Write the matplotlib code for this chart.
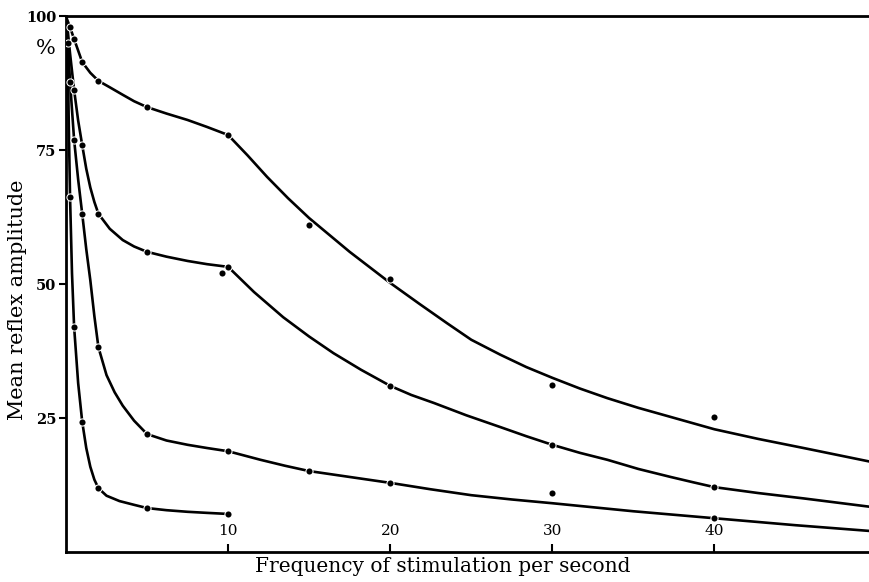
import numpy as np
import matplotlib
matplotlib.use("Agg")
import matplotlib.pyplot as plt

plt.rcParams['font.family'] = ['DejaVu Serif']

# drawn curve paths (frequency per second, % amplitude)
a_line_x = [0.05, 0.25, 0.5, 1, 1.5, 2, 2.7, 3.5, 4.2, 5, 6.2, 7.5, 8.7, 10,
            11.2, 12.4, 13.7, 15, 17.5, 20, 21.8, 23.5, 25, 26.8, 28.4, 30,
            31.7, 33.4, 35.3, 37.3, 40, 42.7, 45.5, 47.6, 49.7]
a_line_y = [99.5, 97.9, 95.7, 91.4, 89.4, 87.9, 86.7, 85.3, 84.1, 83.0, 81.8, 80.6, 79.3, 77.8,
            74.0, 70.0, 66.0, 62.3, 56.0, 50.2, 46.3, 42.7, 39.6, 36.8, 34.5, 32.5,
            30.5, 28.7, 26.9, 25.2, 22.9, 21.1, 19.4, 18.1, 16.8]

b_line_x = [0.05, 0.25, 0.5, 0.75, 1, 1.25, 1.5, 1.75, 2, 2.7, 3.5, 4.2, 5, 6.2, 7.5, 8.7, 10,
            11.6, 13.4, 15, 16.5, 18.2, 20, 21.3, 22.7, 24.7, 26.8, 28.4, 30,
            31.7, 33.4, 35.3, 37.3, 38.7, 40, 42.7, 45.5, 47.6, 49.7]
b_line_y = [99.0, 93.0, 86.2, 80.5, 75.9, 71.5, 68.0, 65.3, 63.1, 60.3, 58.2, 57.0, 56.0, 55.1, 54.3, 53.7, 53.2,
            48.5, 43.8, 40.2, 37.1, 34.0, 31.0, 29.3, 27.8, 25.5, 23.3, 21.6, 20.0,
            18.5, 17.2, 15.5, 14.0, 13.0, 12.1, 11.0, 10.0, 9.2, 8.4]

c_line_x = [0.05, 0.25, 0.5, 0.75, 1, 1.25, 1.5, 1.75, 2, 2.5, 3, 3.5, 4.2, 5, 6.2, 7.5, 8.7, 10,
            12, 13.5, 15, 17.5, 20, 22.5, 25, 27.5, 30, 35, 40, 45, 49.7]
c_line_y = [99.0, 87.7, 76.9, 69.5, 63.1, 56.5, 50.7, 44.0, 38.2, 33.0, 29.8, 27.3, 24.5, 22.0, 20.8, 20.0, 19.4, 18.8,
            17.2, 16.1, 15.1, 14.0, 12.9, 11.7, 10.6, 9.8, 9.1, 7.6, 6.3, 5.0, 3.9]

d_line_x = [0.03, 0.1, 0.17, 0.25, 0.37, 0.5, 0.75, 1, 1.25, 1.5, 1.75, 2, 2.5, 3.3, 4.2, 5, 6.2, 7.5, 8.7, 10]
d_line_y = [99.5, 95.0, 80.0, 66.2, 52.0, 42.0, 31.5, 24.3, 19.4, 15.9, 13.5, 11.9, 10.5, 9.5, 8.8, 8.2, 7.8, 7.5, 7.3, 7.1]

# measured points
a_pts_x = [0.25, 0.5, 1, 2, 5, 10, 15, 20, 30, 40]
a_pts_y = [97.9, 95.7, 91.4, 87.9, 83.0, 77.8, 61.0, 50.9, 31.2, 25.2]
b_pts_x = [0.5, 1, 2, 5, 9.6, 10, 20, 30, 40]
b_pts_y = [86.2, 75.9, 63.1, 56.0, 52.0, 53.2, 31.0, 20.0, 12.1]
c_pts_x = [0.25, 0.5, 1, 2, 5, 10, 15, 20, 30, 40]
c_pts_y = [87.7, 76.9, 63.1, 38.2, 22.0, 18.8, 15.1, 12.9, 11.0, 6.3]
d_pts_x = [0.1, 0.25, 0.5, 1, 2, 5, 10]
d_pts_y = [95.0, 66.2, 42.0, 24.3, 11.9, 8.2, 7.1]

x_ticks = [10, 20, 30, 40]
y_ticks = [25, 50, 75, 100]

fig = plt.figure(figsize=(8.7, 5.82), dpi=100)
ax = fig.add_axes([66 / 870, 30 / 582, 1 - 66 / 870, 536 / 582])

lines = [(a_line_x, a_line_y), (b_line_x, b_line_y), (c_line_x, c_line_y), (d_line_x, d_line_y)]
for lx, ly in lines:
    ax.plot(lx, ly, color='black', lw=1.9, solid_capstyle='round',
            solid_joinstyle='round', zorder=2)

pts = [(a_pts_x, a_pts_y), (b_pts_x, b_pts_y), (c_pts_x, c_pts_y), (d_pts_x, d_pts_y)]
for px, py in pts:
    ax.plot(px, py, 'o', color='black', ms=4.4, mec='white', mew=1.5, zorder=3)
    ax.plot(px, py, 'o', color='black', ms=4.4, mec='black', mew=0, zorder=4)

ax.set_xlim(0, 49.6)
ax.set_ylim(0, 100)

ax.spines['right'].set_visible(False)
for s in ['left', 'bottom', 'top']:
    ax.spines[s].set_linewidth(2.0)

ax.set_xticks(x_ticks)
ax.set_xticklabels([str(t) for t in x_ticks], fontsize=11)
ax.tick_params(axis='x', direction='in', length=6, width=1.5, pad=-20)
ax.set_yticks(y_ticks)
ax.set_yticklabels([str(t) for t in y_ticks], fontsize=10.5, fontweight='bold')
ax.tick_params(axis='y', direction='out', length=5, width=1.5, pad=2)

ax.text(-0.025, 0.94, '%', transform=ax.transAxes, fontsize=15, ha='center', va='center')

ax.set_xlabel('Frequency of stimulation per second', fontsize=14.5)
ax.xaxis.set_label_coords(0.468, -0.01)
ax.set_ylabel('Mean reflex amplitude', fontsize=15)
ax.yaxis.set_label_coords(-0.048, 0.47)

fig.savefig('out.png', dpi=100)
